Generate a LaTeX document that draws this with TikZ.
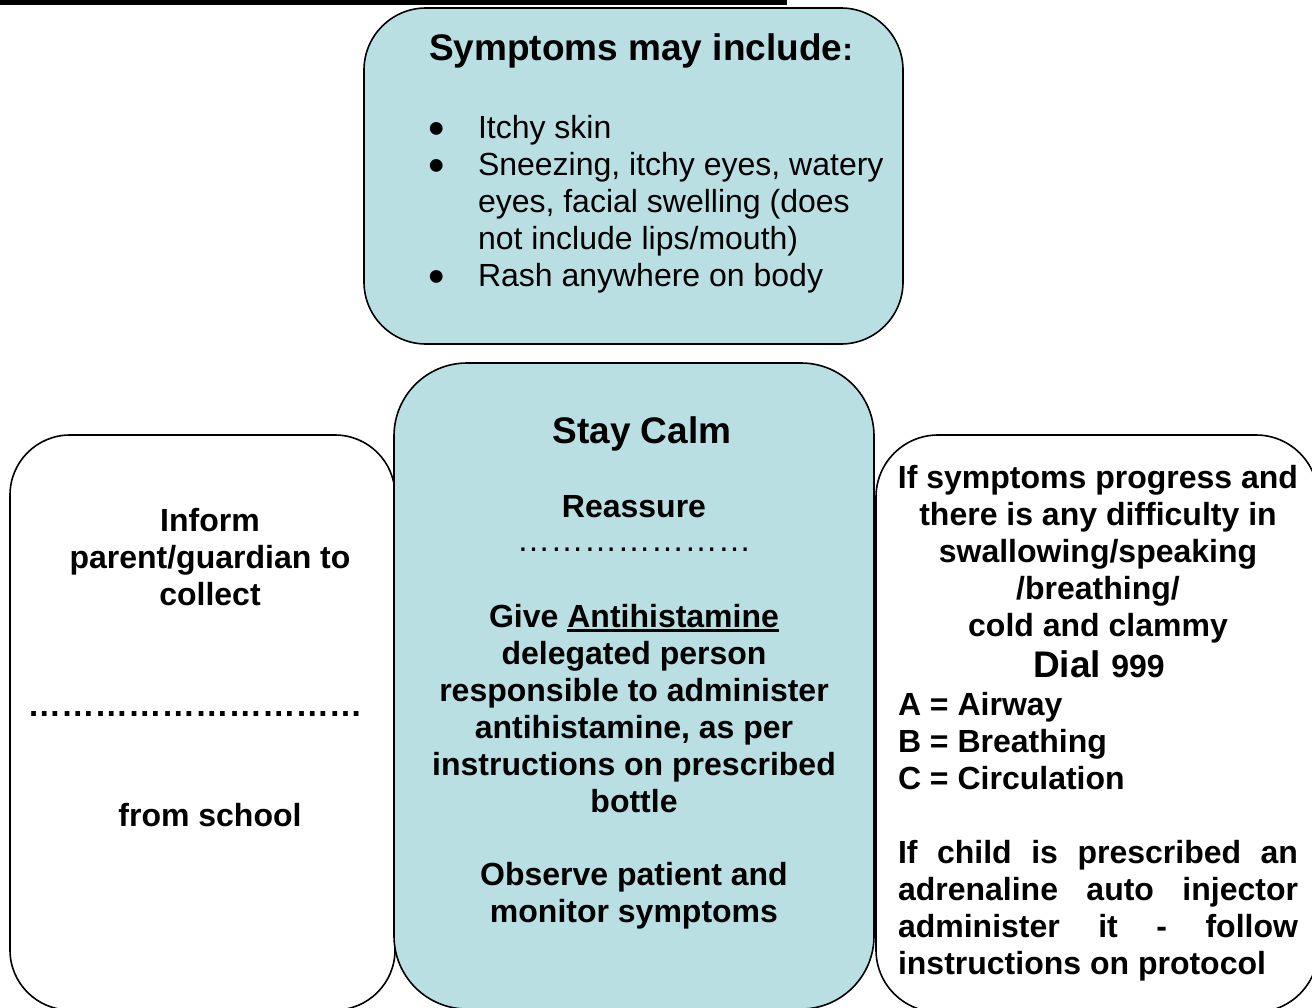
\documentclass[tikz,border=0pt]{standalone}
\usepackage{fontspec}
\setmainfont{Liberation Sans}
\definecolor{calmblue}{RGB}{185,223,227}
% thick underline for emphasised words
\newcommand\myul[1]{\setbox0=\hbox{#1}\rlap{\rule[-4.5pt]{\wd0}{2.2pt}}\box0}
% list bullet hanging left of the text
\newcommand\bul{\llap{\smash{\raisebox{-6.5pt}{\fontsize{47}{37}\selectfont\textbullet}}\hspace{33pt}}}
% one ellipsis, repeated for the dotted separators
\newcommand\ellch{…}
\newcommand\tenell{\ellch\ellch\ellch\ellch\ellch\ellch\ellch\ellch\ellch\ellch}
\newcommand\sevenell{\ellch\ellch\ellch\ellch\ellch\ellch\ellch}

\begin{document}
\begin{tikzpicture}[x=1pt,y=-1pt,
  panel/.style={draw=black, line width=1.6pt, inner sep=0, outer sep=0},
  bluepanel/.style={panel, fill=calmblue},
  whitepanel/.style={panel, fill=white},
  body/.style={inner sep=0, outer sep=0, font=\fontsize{32}{37}\selectfont\bfseries, align=center},
  plain/.style={inner sep=0, outer sep=0, font=\fontsize{32}{37}\selectfont, align=left},
  big/.style={inner sep=0, outer sep=0, font=\fontsize{37}{42}\selectfont\bfseries}
]
\clip (0,0) rectangle (1312,1007);
\fill[white] (0,0) rectangle (1312,1007);

% heading rule
\fill[black] (0,0) rectangle (787,4.5);

% panels
\node[whitepanel, rounded corners=60, minimum width=385, minimum height=575] (informbox) at (202.5,722.5) {};
\node[whitepanel, rounded corners=62, minimum width=442, minimum height=577] (urgentbox) at (1097,723.5) {};
\node[bluepanel, rounded corners=73, minimum width=480, minimum height=646] (calmbox) at (634,686) {};
\node[bluepanel, rounded corners=62, minimum width=539, minimum height=336] (symbox) at (633.5,176) {};

% symptoms
\node[big, anchor=base] (symtitle) at (641,60) {Symptoms may include\fontsize{32}{37}\selectfont:};
\node[plain, anchor=north west] (symlist) at (478,112.1) {\strut\bul Itchy skin\\
\bul Sneezing, itchy eyes, watery\\
eyes, facial swelling (does\\
not include lips/mouth)\\
\bul Rash anywhere on body};

% left panel
\node[body, anchor=north] (inform) at (210,505.1) {\strut Inform\\parent/guardian to\\collect};
\node[body, font=\fontsize{33.5}{37}\selectfont\bfseries, anchor=base] (leftdots) at (195,716) {\tenell};
\node[body, anchor=base] (school) at (210,826) {from school};

% centre panel
\node[big, anchor=base] (calm) at (642,443) {Stay Calm};
\node[body, anchor=base] (reassure) at (634,517) {Reassure};
\node[plain, font=\fontsize{33.5}{37}\selectfont, anchor=base] (middots) at (634,551) {\sevenell};
\node[body, anchor=north] (antihist) at (634,601.1) {\strut Give \myul{Antihistamine}\\delegated person\\responsible to administer\\antihistamine, as per\\instructions on prescribed\\bottle};
\node[body, anchor=north] (observe) at (634,859.1) {\strut Observe patient and\\monitor symptoms};

% right panel
\node[body, anchor=north] (progress) at (1098,462.1) {\strut If symptoms progress and\\there is any difficulty in\\swallowing/speaking\\/breathing/\\cold and clammy};
\node[big, anchor=base] (dial) at (1099,677) {Dial \fontsize{32}{37}\selectfont 999};
\node[body, align=left, anchor=north west] (abc) at (898,689.1) {\strut A = Airway\\B = Breathing\\C = Circulation};
\node[body, align=left, anchor=north west] (inject) at (898,837.1) {\strut\hbox to 400pt{If\hfill child\hfill is\hfill prescribed\hfill an}\\
\hbox to 400pt{adrenaline\hfill auto\hfill injector}\\
\hbox to 400pt{administer\hfill it\hfill -\hfill follow}\\
instructions on protocol};
\end{tikzpicture}
\end{document}
